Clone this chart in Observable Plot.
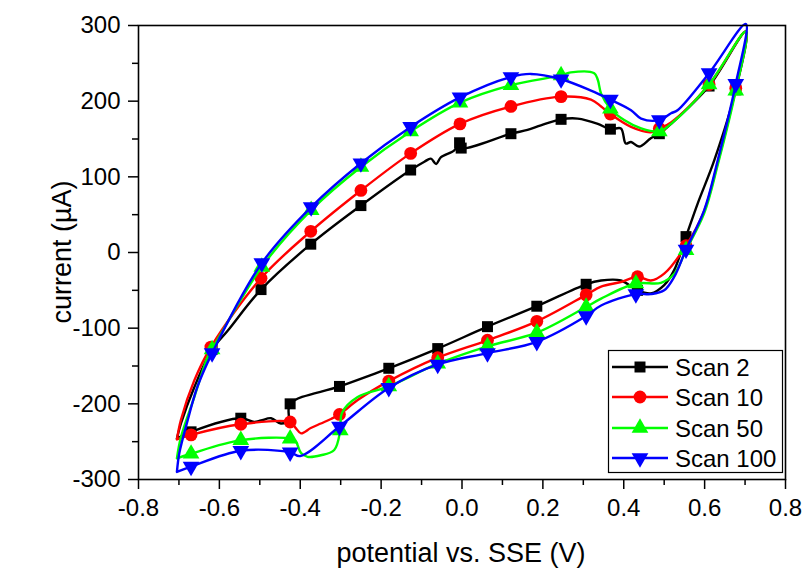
<!DOCTYPE html>
<html><head><meta charset="utf-8">
<script src="https://cdn.jsdelivr.net/npm/d3@7"></script>
<script src="https://cdn.jsdelivr.net/npm/@observablehq/plot@0.6"></script>
<style>
body{margin:0;background:#fff}
#chart{position:relative;width:803px;height:570px}
</style>
</head><body><div id="chart"></div>
<script>
// ---- data: [potential V, current µA, marker flag] ----
const seriesNames = ["Scan 2", "Scan 10", "Scan 50", "Scan 100"];
const seriesColors = ["#000000", "#ff0000", "#00ff00", "#0000ff"];
const xMajorTicks = [-0.8, -0.6, -0.4, -0.2, 0.0, 0.2, 0.4, 0.6, 0.8];
const xMinorTicks = [-0.7, -0.5, -0.3, -0.1, 0.1, 0.3, 0.5, 0.7];
const yMajorTicks = [-300, -200, -100, 0, 100, 200, 300];
const yMinorTicks = [-250, -150, -50, 50, 150, 250];

const scan2 = [
  [-0.705,-246,0],[-0.695,-226,0],[-0.662,-178,0],[-0.618,-128,1],[-0.579,-103,0],
  [-0.497,-49,1],[-0.374,11,1],[-0.25,62,1],[-0.127,109,1],[-0.093,120,0],[-0.077,124,0],
  [-0.064,117,0],[-0.052,126,0],[-0.019,135,0],[-0.006,145,1],[-0.002,138,1],
  [0.121,157,1],[0.162,162,0],[0.195,168,0],[0.245,176,1],[0.286,177,0],[0.336,170,0],
  [0.367,163,1],[0.393,164,0],[0.405,144,0],[0.418,146,0],[0.438,140,0],[0.467,151,0],
  [0.488,157,1],[0.517,170,0],[0.611,220,1],[0.702,292,0],
  [0.677,215,1],[0.624,122,0],[0.583,65,0],[0.554,21,1],[0.525,-23,0],[0.5,-43,0],
  [0.467,-54,0],[0.434,-50,1],[0.393,-37,0],[0.344,-37,0],[0.307,-42,1],[0.185,-71,1],
  [0.063,-98,1],[-0.06,-127,1],[-0.181,-153,1],[-0.303,-177,1],[-0.425,-200,1],
  [-0.43,-222,0],[-0.448,-226,0],[-0.472,-219,0],[-0.497,-222,0],[-0.514,-224,0],
  [-0.547,-219,1],[-0.67,-237,1],[-0.705,-246,0]
];
const scan10 = [
  [-0.705,-247,0],[-0.695,-221,0],[-0.662,-169,0],[-0.621,-125,1],[-0.497,-34,1],
  [-0.374,28,1],[-0.25,82,1],[-0.127,131,1],[-0.005,170,1],[0.121,193,1],[0.245,206,1],
  [0.319,202,0],[0.344,193,0],[0.367,183,1],[0.418,166,0],[0.467,159,0],[0.488,164,1],
  [0.517,172,0],[0.611,222,1],[0.702,292,0],
  [0.677,217,1],[0.632,118,0],[0.599,55,0],[0.554,9,1],[0.5,-28,0],[0.467,-37,0],
  [0.434,-32,1],[0.393,-39,0],[0.344,-45,0],[0.307,-56,1],[0.185,-91,1],[0.063,-116,1],
  [-0.06,-139,1],[-0.181,-170,1],[-0.258,-195,0],[-0.303,-214,1],[-0.324,-220,0],
  [-0.349,-226,0],[-0.374,-232,0],[-0.398,-239,0],[-0.411,-232,0],[-0.425,-224,1],
  [-0.547,-227,1],[-0.67,-241,1],[-0.705,-247,0]
];
const scan50 = [
  [-0.705,-272,0],[-0.695,-244,0],[-0.662,-191,0],[-0.629,-138,0],[-0.618,-128,1],
  [-0.495,-19,1],[-0.373,56,1],[-0.25,113,1],[-0.127,160,1],[-0.005,198,1],[0.121,221,1],
  [0.245,234,1],[0.269,238,0],[0.327,237,0],[0.336,228,0],[0.344,210,0],[0.367,190,1],
  [0.401,175,0],[0.443,164,0],[0.488,160,1],[0.517,170,0],[0.611,222,1],[0.702,292,0],
  [0.677,214,1],[0.632,115,0],[0.599,52,0],[0.554,3,1],[0.525,-28,0],[0.492,-40,0],
  [0.43,-41,1],[0.344,-61,0],[0.307,-72,1],[0.185,-106,1],[0.063,-124,1],[-0.06,-147,1],
  [-0.181,-177,1],[-0.258,-191,0],[-0.297,-212,0],[-0.301,-235,1],[-0.316,-261,0],
  [-0.349,-268,0],[-0.382,-270,0],[-0.398,-265,0],[-0.411,-250,0],[-0.425,-246,1],
  [-0.547,-248,1],[-0.67,-266,1],[-0.705,-272,0]
];
const scan100 = [
  [-0.705,-290,0],[-0.699,-265,0],[-0.678,-221,0],[-0.654,-177,0],[-0.618,-133,1],
  [-0.495,-14,1],[-0.373,60,1],[-0.25,118,1],[-0.127,166,1],[-0.005,205,1],[0.121,232,1],
  [0.17,236,0],[0.245,229,1],[0.319,214,0],[0.367,202,1],[0.418,188,0],[0.443,177,0],
  [0.488,175,1],[0.517,184,0],[0.533,188,0],[0.611,237,1],[0.702,302,0],
  [0.677,223,1],[0.632,121,0],[0.599,56,0],[0.554,4,1],[0.525,-32,0],[0.5,-50,0],
  [0.467,-55,0],[0.43,-55,1],[0.344,-70,0],[0.307,-84,1],[0.185,-118,1],[0.063,-133,1],
  [-0.06,-148,1],[-0.181,-179,1],[-0.303,-230,1],[-0.4,-269,0],[-0.425,-264,1],
  [-0.547,-262,1],[-0.67,-283,1],[-0.705,-290,0]
];
const seriesData = [scan2, scan10, scan50, scan100];

// ---- symbols ----
const downTriangle = {
  draw(context, size) {
    const y = -Math.sqrt(size / (Math.sqrt(3) * 3));
    context.moveTo(0, -y * 2);
    context.lineTo(-Math.sqrt(3) * y, y);
    context.lineTo(Math.sqrt(3) * y, y);
    context.closePath();
  }
};
const seriesSymbols = ["square", "circle", "triangle", downTriangle];
const seriesR = [6.2, 6.4, 6.2, 6.2];

const rows = seriesData.map((arr, i) => arr.map((d, k) => ({x: d[0], y: d[1], m: d[2], k, series: seriesNames[i]})));

const marks = [];
rows.forEach((r, i) => {
  marks.push(Plot.line(r, {x: "x", y: "y", stroke: seriesColors[i], strokeWidth: 2.4, curve: "catmull-rom"}));
  marks.push(Plot.dot(r.filter(d => d.m === 1), {x: "x", y: "y", fill: seriesColors[i], stroke: "none", symbol: seriesSymbols[i], r: seriesR[i]}));
});

const plot = Plot.plot({
  width: 803, height: 570,
  marginLeft: 138, marginRight: 18, marginTop: 25, marginBottom: 91,
  x: {domain: [-0.8, 0.8]},
  y: {domain: [-300, 300]},
  style: {fontFamily: "'Liberation Sans', Arial, sans-serif", fontSize: "24px", color: "#000", background: "#fff", overflow: "visible"},
  marks: [
    Plot.axisX(xMinorTicks, {tickSize: 6, tickFormat: () => "", label: null, strokeWidth: 1.5}),
    Plot.axisX(xMajorTicks, {tickSize: 10, tickPadding: 9, tickFormat: d => d.toFixed(1), label: null, strokeWidth: 1.5}),
    Plot.axisY(yMinorTicks, {tickSize: 6, tickFormat: () => "", label: null, strokeWidth: 1.5}),
    Plot.axisY(yMajorTicks, {tickSize: 10, tickPadding: 8, tickFormat: d => String(d), label: null, strokeWidth: 1.5}),
    ...marks,
    Plot.frame({stroke: "#000", strokeWidth: 1.6})
  ]
});
document.getElementById("chart").appendChild(plot);

// ---- axis titles and legend ----
const svg = d3.select(plot);
svg.append("text").attr("x", 461).attr("y", 562).attr("text-anchor", "middle")
  .attr("font-size", 27).attr("fill", "#000").text("potential vs. SSE (V)");
svg.append("text").attr("transform", "translate(62,252) rotate(-90)").attr("text-anchor", "middle")
  .attr("dominant-baseline", "central").attr("font-size", 27).attr("fill", "#000").text("current (µA)");

const lg = svg.append("g");
lg.append("rect").attr("x", 608.5).attr("y", 350.5).attr("width", 174).attr("height", 122)
  .attr("fill", "#fff").attr("stroke", "#000").attr("stroke-width", 1.2);
const rowY = [367, 397, 428, 458];
seriesNames.forEach((name, i) => {
  const y = rowY[i];
  lg.append("line").attr("x1", 612).attr("x2", 668).attr("y1", y).attr("y2", y)
    .attr("stroke", seriesColors[i]).attr("stroke-width", 2.4);
  const sym = typeof seriesSymbols[i] === "string"
    ? ({square: d3.symbolSquare, circle: d3.symbolCircle, triangle: d3.symbolTriangle})[seriesSymbols[i]]
    : seriesSymbols[i];
  lg.append("path").attr("transform", `translate(640,${y})`)
    .attr("d", d3.symbol(sym, Math.PI * seriesR[i] * seriesR[i])())
    .attr("fill", seriesColors[i]);
  lg.append("text").attr("x", 675).attr("y", y).attr("text-anchor", "start").attr("dominant-baseline", "central")
    .attr("font-size", 24).attr("fill", "#000").text(name);
});
</script>
</body></html>
